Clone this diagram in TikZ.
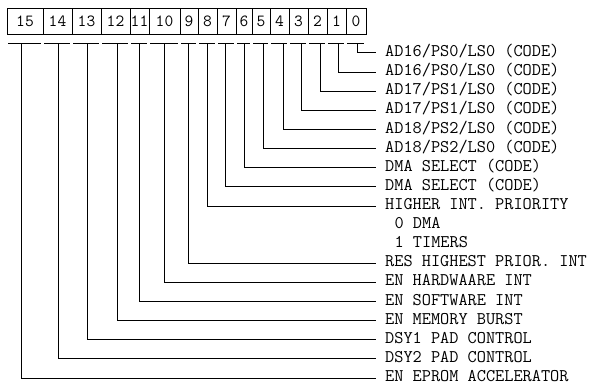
\documentclass[tikz,border=0pt]{standalone}
\usepackage{fontspec}
\usetikzlibrary{positioning}
\begin{document}
\begin{tikzpicture}[x=1pt, y=-1pt,
  cell/.style={draw, line width=0.9pt, minimum height=26pt, inner sep=0pt,
               font=\fontsize{17}{17}\selectfont\ttfamily},
  lbl/.style={anchor=west, inner xsep=9pt, inner ysep=0pt, text height=8pt,
              text depth=1pt, font=\fontsize{17.8}{18}\selectfont\ttfamily},
  wire/.style={line width=1pt}
]
\useasboundingbox (0,0) rectangle (594,385);
% register bits
\node[cell, minimum width=36pt] (b15) at (25,21) {15};
\node[cell, minimum width=29pt] (b14) at (57.5,21) {14};
\node[cell, minimum width=29pt] (b13) at (86.5,21) {13};
\node[cell, minimum width=29pt] (b12) at (115.5,21) {12};
\node[cell, minimum width=19pt] (b11) at (139.5,21) {11};
\node[cell, minimum width=31pt] (b10) at (164.5,21) {10};
\node[cell, minimum width=18pt] (b9) at (189,21) {9};
\node[cell, minimum width=19pt] (b8) at (207.5,21) {8};
\node[cell, minimum width=19pt] (b7) at (226.5,21) {7};
\node[cell, minimum width=16pt] (b6) at (244,21) {6};
\node[cell, minimum width=18pt] (b5) at (261,21) {5};
\node[cell, minimum width=19pt] (b4) at (279.5,21) {4};
\node[cell, minimum width=19pt] (b3) at (298.5,21) {3};
\node[cell, minimum width=19pt] (b2) at (317.5,21) {2};
\node[cell, minimum width=19pt] (b1) at (336.5,21) {1};
\node[cell, minimum width=20pt] (b0) at (356,21) {0};
% tick points
\coordinate (t15) at (21,44);
\coordinate (t14) at (58,44);
\coordinate (t13) at (87,44);
\coordinate (t12) at (117,44);
\coordinate (t11) at (139,44);
\coordinate (t10) at (164,44);
\coordinate (t9) at (188,44);
\coordinate (t8) at (207,44);
\coordinate (t7) at (225,44);
\coordinate (t6) at (244,44);
\coordinate (t5) at (263,44);
\coordinate (t4) at (283,44);
\coordinate (t3) at (301,44);
\coordinate (t2) at (320,44);
\coordinate (t1) at (338,44);
\coordinate (t0) at (357,44);
% field descriptions
\node[lbl] (l0) at (376,53) {AD16/PS0/LS0 (CODE)};
\node[lbl] (l1) at (376,72.1) {AD16/PS0/LS0 (CODE)};
\node[lbl] (l2) at (376,91.2) {AD17/PS1/LS0 (CODE)};
\node[lbl] (l3) at (376,110.4) {AD17/PS1/LS0 (CODE)};
\node[lbl] (l4) at (376,129.5) {AD18/PS2/LS0 (CODE)};
\node[lbl] (l5) at (376,148.6) {AD18/PS2/LS0 (CODE)};
\node[lbl] (l6) at (376,167.7) {DMA SELECT (CODE)};
\node[lbl] (l7) at (376,186.8) {DMA SELECT (CODE)};
\node[lbl] (l8) at (376,206) {HIGHER INT. PRIORITY};
\node[lbl] (d0) at (385.4,225.1) {0 DMA};
\node[lbl] (d1) at (385.4,244.2) {1 TIMERS};
\node[lbl] (l9) at (376,263.3) {RES HIGHEST PRIOR. INT};
\node[lbl] (l10) at (376,282.4) {EN HARDWAARE INT};
\node[lbl] (l11) at (376,301.6) {EN SOFTWARE INT};
\node[lbl] (l12) at (376,320.7) {EN MEMORY BURST};
\node[lbl] (l13) at (376,339.8) {DSY1 PAD CONTROL};
\node[lbl] (l14) at (376,358.9) {DSY2 PAD CONTROL};
\node[lbl] (l15) at (376,378) {EN EPROM ACCELERATOR};
% ticks and leaders
\foreach \i in {0,...,15}{
  \draw[wire] ([xshift=1.5pt]b\i.south west |- t\i) -- ([xshift=-2.5pt]b\i.south east |- t\i);
  \draw[wire] (t\i) |- (l\i.west);
}
\end{tikzpicture}
\end{document}
